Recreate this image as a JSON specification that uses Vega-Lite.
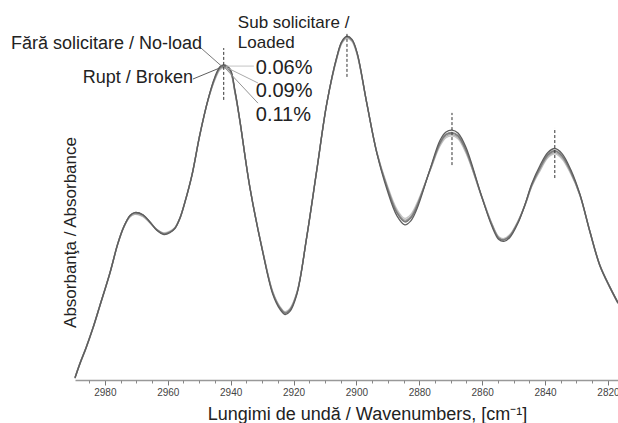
{
  "$schema": "https://vega.github.io/schema/vega-lite/v6.json",
  "autosize": "none",
  "width": 543,
  "height": 360,
  "padding": {"left": 75, "top": 20, "right": 0, "bottom": 43},
  "background": "white",
  "config": {
    "font": "Liberation Sans",
    "view": {"stroke": null},
    "axis": {"grid": false}
  },
  "resolve": {"axis": {"x": "independent"}},
  "datasets": {
    "spectra": [
      {"wn": 2989.5, "n": 0.006, "b": 0.006, "p06": 0.008, "p09": 0.004, "p11": 0.007},
      {"wn": 2988.0, "n": 0.044, "b": 0.044, "p06": 0.046, "p09": 0.042, "p11": 0.045},
      {"wn": 2986.0, "n": 0.089, "b": 0.089, "p06": 0.091, "p09": 0.087, "p11": 0.090},
      {"wn": 2983.8, "n": 0.144, "b": 0.144, "p06": 0.146, "p09": 0.142, "p11": 0.145},
      {"wn": 2981.6, "n": 0.206, "b": 0.206, "p06": 0.208, "p09": 0.204, "p11": 0.207},
      {"wn": 2978.4, "n": 0.297, "b": 0.297, "p06": 0.299, "p09": 0.295, "p11": 0.298},
      {"wn": 2975.9, "n": 0.378, "b": 0.378, "p06": 0.380, "p09": 0.376, "p11": 0.379},
      {"wn": 2974.0, "n": 0.425, "b": 0.425, "p06": 0.425, "p09": 0.423, "p11": 0.426},
      {"wn": 2972.0, "n": 0.456, "b": 0.457, "p06": 0.453, "p09": 0.454, "p11": 0.457},
      {"wn": 2970.5, "n": 0.464, "b": 0.465, "p06": 0.460, "p09": 0.461, "p11": 0.465},
      {"wn": 2967.9, "n": 0.458, "b": 0.459, "p06": 0.454, "p09": 0.455, "p11": 0.459},
      {"wn": 2965.7, "n": 0.439, "b": 0.439, "p06": 0.437, "p09": 0.437, "p11": 0.440},
      {"wn": 2963.5, "n": 0.417, "b": 0.416, "p06": 0.419, "p09": 0.418, "p11": 0.418},
      {"wn": 2961.2, "n": 0.406, "b": 0.404, "p06": 0.409, "p09": 0.407, "p11": 0.406},
      {"wn": 2959.3, "n": 0.411, "b": 0.409, "p06": 0.414, "p09": 0.412, "p11": 0.411},
      {"wn": 2957.7, "n": 0.422, "b": 0.421, "p06": 0.424, "p09": 0.421, "p11": 0.423},
      {"wn": 2956.1, "n": 0.450, "b": 0.450, "p06": 0.452, "p09": 0.448, "p11": 0.451},
      {"wn": 2954.6, "n": 0.492, "b": 0.492, "p06": 0.494, "p09": 0.490, "p11": 0.493},
      {"wn": 2952.3, "n": 0.569, "b": 0.569, "p06": 0.571, "p09": 0.567, "p11": 0.570},
      {"wn": 2949.8, "n": 0.681, "b": 0.681, "p06": 0.683, "p09": 0.679, "p11": 0.682},
      {"wn": 2947.2, "n": 0.778, "b": 0.779, "p06": 0.777, "p09": 0.776, "p11": 0.779},
      {"wn": 2945.0, "n": 0.839, "b": 0.842, "p06": 0.834, "p09": 0.836, "p11": 0.839},
      {"wn": 2943.4, "n": 0.867, "b": 0.870, "p06": 0.862, "p09": 0.864, "p11": 0.867},
      {"wn": 2942.2, "n": 0.872, "b": 0.875, "p06": 0.867, "p09": 0.869, "p11": 0.872},
      {"wn": 2940.2, "n": 0.861, "b": 0.864, "p06": 0.856, "p09": 0.858, "p11": 0.861},
      {"wn": 2938.6, "n": 0.800, "b": 0.803, "p06": 0.796, "p09": 0.797, "p11": 0.800},
      {"wn": 2937.1, "n": 0.722, "b": 0.723, "p06": 0.722, "p09": 0.720, "p11": 0.723},
      {"wn": 2933.9, "n": 0.536, "b": 0.536, "p06": 0.538, "p09": 0.534, "p11": 0.537},
      {"wn": 2929.7, "n": 0.353, "b": 0.351, "p06": 0.356, "p09": 0.354, "p11": 0.353},
      {"wn": 2926.6, "n": 0.242, "b": 0.238, "p06": 0.246, "p09": 0.244, "p11": 0.242},
      {"wn": 2924.3, "n": 0.200, "b": 0.196, "p06": 0.204, "p09": 0.202, "p11": 0.200},
      {"wn": 2922.7, "n": 0.186, "b": 0.182, "p06": 0.190, "p09": 0.188, "p11": 0.186},
      {"wn": 2921.2, "n": 0.194, "b": 0.190, "p06": 0.198, "p09": 0.196, "p11": 0.194},
      {"wn": 2918.9, "n": 0.242, "b": 0.239, "p06": 0.245, "p09": 0.243, "p11": 0.242},
      {"wn": 2915.8, "n": 0.397, "b": 0.397, "p06": 0.399, "p09": 0.395, "p11": 0.398},
      {"wn": 2912.6, "n": 0.583, "b": 0.583, "p06": 0.585, "p09": 0.581, "p11": 0.584},
      {"wn": 2909.4, "n": 0.769, "b": 0.769, "p06": 0.769, "p09": 0.767, "p11": 0.770},
      {"wn": 2906.2, "n": 0.897, "b": 0.899, "p06": 0.893, "p09": 0.895, "p11": 0.898},
      {"wn": 2904.6, "n": 0.939, "b": 0.941, "p06": 0.935, "p09": 0.937, "p11": 0.940},
      {"wn": 2903.0, "n": 0.953, "b": 0.955, "p06": 0.949, "p09": 0.951, "p11": 0.954},
      {"wn": 2901.4, "n": 0.944, "b": 0.946, "p06": 0.940, "p09": 0.942, "p11": 0.945},
      {"wn": 2899.8, "n": 0.908, "b": 0.910, "p06": 0.904, "p09": 0.906, "p11": 0.909},
      {"wn": 2896.7, "n": 0.769, "b": 0.769, "p06": 0.769, "p09": 0.767, "p11": 0.770},
      {"wn": 2893.5, "n": 0.631, "b": 0.630, "p06": 0.634, "p09": 0.631, "p11": 0.632},
      {"wn": 2890.3, "n": 0.536, "b": 0.530, "p06": 0.544, "p09": 0.540, "p11": 0.538},
      {"wn": 2887.1, "n": 0.464, "b": 0.456, "p06": 0.474, "p09": 0.469, "p11": 0.466},
      {"wn": 2884.6, "n": 0.439, "b": 0.431, "p06": 0.449, "p09": 0.444, "p11": 0.441},
      {"wn": 2882.7, "n": 0.450, "b": 0.442, "p06": 0.460, "p09": 0.455, "p11": 0.452},
      {"wn": 2880.8, "n": 0.481, "b": 0.474, "p06": 0.490, "p09": 0.485, "p11": 0.483},
      {"wn": 2876.6, "n": 0.583, "b": 0.585, "p06": 0.581, "p09": 0.581, "p11": 0.584},
      {"wn": 2873.4, "n": 0.658, "b": 0.666, "p06": 0.650, "p09": 0.654, "p11": 0.660},
      {"wn": 2871.5, "n": 0.681, "b": 0.689, "p06": 0.673, "p09": 0.677, "p11": 0.683},
      {"wn": 2869.6, "n": 0.686, "b": 0.694, "p06": 0.678, "p09": 0.682, "p11": 0.688},
      {"wn": 2867.7, "n": 0.678, "b": 0.686, "p06": 0.670, "p09": 0.674, "p11": 0.680},
      {"wn": 2865.2, "n": 0.639, "b": 0.647, "p06": 0.631, "p09": 0.635, "p11": 0.641},
      {"wn": 2860.1, "n": 0.508, "b": 0.508, "p06": 0.510, "p09": 0.506, "p11": 0.509},
      {"wn": 2856.9, "n": 0.431, "b": 0.427, "p06": 0.435, "p09": 0.433, "p11": 0.431},
      {"wn": 2854.7, "n": 0.394, "b": 0.390, "p06": 0.398, "p09": 0.396, "p11": 0.394},
      {"wn": 2853.1, "n": 0.389, "b": 0.385, "p06": 0.393, "p09": 0.391, "p11": 0.389},
      {"wn": 2851.2, "n": 0.400, "b": 0.396, "p06": 0.404, "p09": 0.402, "p11": 0.400},
      {"wn": 2848.6, "n": 0.439, "b": 0.436, "p06": 0.442, "p09": 0.440, "p11": 0.439},
      {"wn": 2846.4, "n": 0.486, "b": 0.487, "p06": 0.486, "p09": 0.484, "p11": 0.487},
      {"wn": 2844.2, "n": 0.542, "b": 0.546, "p06": 0.538, "p09": 0.539, "p11": 0.543},
      {"wn": 2841.6, "n": 0.589, "b": 0.596, "p06": 0.581, "p09": 0.585, "p11": 0.591},
      {"wn": 2839.1, "n": 0.625, "b": 0.632, "p06": 0.617, "p09": 0.621, "p11": 0.627},
      {"wn": 2836.9, "n": 0.636, "b": 0.643, "p06": 0.628, "p09": 0.632, "p11": 0.638},
      {"wn": 2834.6, "n": 0.622, "b": 0.629, "p06": 0.614, "p09": 0.618, "p11": 0.624},
      {"wn": 2831.8, "n": 0.578, "b": 0.584, "p06": 0.572, "p09": 0.575, "p11": 0.580},
      {"wn": 2828.9, "n": 0.514, "b": 0.516, "p06": 0.514, "p09": 0.512, "p11": 0.515},
      {"wn": 2825.7, "n": 0.411, "b": 0.411, "p06": 0.413, "p09": 0.409, "p11": 0.412},
      {"wn": 2822.6, "n": 0.319, "b": 0.319, "p06": 0.321, "p09": 0.317, "p11": 0.320},
      {"wn": 2819.4, "n": 0.258, "b": 0.258, "p06": 0.260, "p09": 0.256, "p11": 0.259},
      {"wn": 2816.8, "n": 0.214, "b": 0.214, "p06": 0.216, "p09": 0.212, "p11": 0.215}
    ],
    "peaks": [
      {"wn": 2942.2, "y1": 0.778, "y2": 0.922},
      {"wn": 2903.0, "y1": 0.842, "y2": 0.964},
      {"wn": 2869.6, "y1": 0.597, "y2": 0.742},
      {"wn": 2836.9, "y1": 0.561, "y2": 0.700}
    ],
    "leaders": [
      {"series": "n", "x1": 2949.8, "x2": 2942.5, "y1": 0.925, "y2": 0.869},
      {"series": "b", "x1": 2952.0, "x2": 2943.4, "y1": 0.836, "y2": 0.867},
      {"series": "p06", "x1": 2941.5, "x2": 2932.6, "y1": 0.872, "y2": 0.872},
      {"series": "p09", "x1": 2941.5, "x2": 2931.3, "y1": 0.869, "y2": 0.825},
      {"series": "p11", "x1": 2941.8, "x2": 2931.3, "y1": 0.867, "y2": 0.769}
    ],
    "leftLabels": [
      {"wn": 2949.1, "a": 0.919, "label": "Fără solicitare / No-load"},
      {"wn": 2952.0, "a": 0.825, "label": "Rupt / Broken"}
    ],
    "loadedLabel": [
      {"wn": 2937.7, "a": 0.978, "label": ["Sub solicitare /", "Loaded"]}
    ],
    "pctLabels": [
      {"wn": 2932.0, "a": 0.850, "label": "0.06%"},
      {"wn": 2932.0, "a": 0.786, "label": "0.09%"},
      {"wn": 2932.0, "a": 0.719, "label": "0.11%"}
    ]
  },
  "layer": [
    {
      "data": {"name": "spectra"},
      "transform": [{"fold": ["p06", "p09", "p11", "n", "b"], "as": ["series", "a"]}],
      "mark": {"type": "line", "interpolate": "catmull-rom", "strokeWidth": 1.3},
      "encoding": {
        "x": {
          "field": "wn", "type": "quantitative",
          "scale": {"domain": [2989.5, 2816.8], "nice": false, "zero": false},
          "axis": {
            "orient": "bottom",
            "title": "Lungimi de undă / Wavenumbers, [cm⁻¹]",
            "titleFontSize": 18,
            "titleFontWeight": "normal",
            "titleColor": "#222",
            "titleX": 292,
            "titleY": 39,
            "titleBaseline": "alphabetic",
            "values": [2980, 2960, 2940, 2920, 2900, 2880, 2860, 2840, 2820],
            "format": "d",
            "labelFontSize": 10,
            "labelColor": "#444",
            "labelPadding": 2,
            "labelFlush": false,
            "labelOverlap": false,
            "tickSize": 5,
            "tickColor": "#777",
            "domainColor": "#999",
            "domainWidth": 1.5
          }
        },
        "y": {
          "field": "a", "type": "quantitative",
          "scale": {"domain": [0, 1], "nice": false},
          "axis": {
            "title": "Absorbanţa / Absorbance",
            "titleFontSize": 17,
            "titleFontWeight": "normal",
            "titleColor": "#222",
            "titleX": -4.5,
            "titleY": 212,
            "titleAngle": -90,
            "titleBaseline": "middle",
            "titleAlign": "center",
            "labels": false,
            "ticks": false,
            "domain": false
          }
        },
        "color": {
          "field": "series", "type": "nominal",
          "scale": {"domain": ["p06", "p09", "p11", "n", "b"], "range": ["#c4c4c4", "#aaaaaa", "#949494", "#7a7a7a", "#5e5e5e"]},
          "legend": null
        }
      }
    },
    {
      "data": {"name": "peaks"},
      "mark": {"type": "rule", "strokeDash": [3, 2], "color": "#333", "strokeWidth": 1},
      "encoding": {
        "x": {
          "field": "wn", "type": "quantitative",
          "axis": {
            "orient": "bottom",
            "title": null,
            "labels": false,
            "domain": false,
            "values": [2990, 2985, 2975, 2970, 2965, 2955, 2950, 2945, 2935, 2930, 2925, 2915, 2910, 2905, 2895, 2890, 2885, 2875, 2870, 2865, 2855, 2850, 2845, 2835, 2830, 2825],
            "tickSize": 3,
            "tickColor": "#888"
          }
        },
        "y": {"field": "y1", "type": "quantitative"},
        "y2": {"field": "y2"}
      }
    },
    {
      "data": {"name": "leaders"},
      "mark": {"type": "rule", "strokeWidth": 1},
      "encoding": {
        "x": {"field": "x1", "type": "quantitative", "axis": null},
        "x2": {"field": "x2"},
        "y": {"field": "y1", "type": "quantitative"},
        "y2": {"field": "y2"},
        "color": {"field": "series", "type": "nominal", "legend": null}
      }
    },
    {
      "data": {"name": "leftLabels"},
      "mark": {"type": "text", "align": "right", "baseline": "alphabetic", "fontSize": 18, "color": "#222"},
      "encoding": {
        "x": {"field": "wn", "type": "quantitative", "axis": null},
        "y": {"field": "a", "type": "quantitative"},
        "text": {"field": "label"}
      }
    },
    {
      "data": {"name": "loadedLabel"},
      "mark": {"type": "text", "align": "left", "baseline": "alphabetic", "fontSize": 17, "lineHeight": 20, "color": "#222"},
      "encoding": {
        "x": {"field": "wn", "type": "quantitative", "axis": null},
        "y": {"field": "a", "type": "quantitative"},
        "text": {"field": "label"}
      }
    },
    {
      "data": {"name": "pctLabels"},
      "mark": {"type": "text", "align": "left", "baseline": "alphabetic", "fontSize": 20, "color": "#222"},
      "encoding": {
        "x": {"field": "wn", "type": "quantitative", "axis": null},
        "y": {"field": "a", "type": "quantitative"},
        "text": {"field": "label"}
      }
    }
  ]
}
